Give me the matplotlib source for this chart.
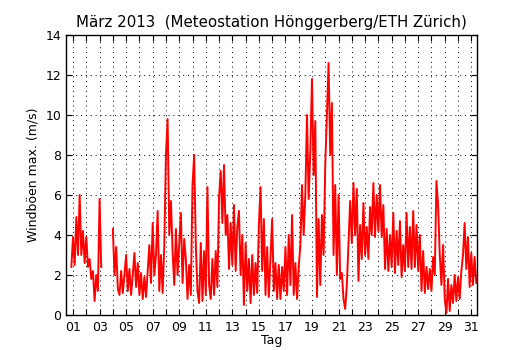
import numpy as np
import matplotlib
matplotlib.use('Agg')
import matplotlib.pyplot as plt

# Windböen max. (m/s), 3-hourly estimates, 8 values per day (nan = no data)
nan = np.nan
day01 = [nan, nan, nan, 2.4, 3.9, 2.5, 4.9, 3.0]
day02 = [6.0, 3.0, 4.2, 2.6, 3.9, 2.4, 2.8, 1.8]
day03 = [2.2, 0.7, 2.0, 1.2, 5.8, 2.4, nan, nan]
day04 = [nan, nan, nan, nan, 4.3, 2.0, 3.4, 1.3]
day05 = [1.0, 2.2, 1.1, 2.0, 3.0, 1.2, 2.3, 1.0]
day06 = [2.0, 3.1, 1.4, 2.6, 1.0, 2.1, 0.8, 1.9]
day07 = [0.9, 2.2, 3.5, 1.6, 4.6, 2.0, 3.0, 5.2]
day08 = [1.2, 3.0, 1.1, 3.5, 8.0, 9.8, 4.0, 5.7]
day09 = [3.2, 1.5, 4.3, 2.0, 3.6, 5.1, 1.6, 3.8]
day10 = [2.8, 0.8, 2.5, 1.0, 6.5, 8.0, 3.5, 1.2]
day11 = [0.6, 3.6, 0.7, 3.2, 1.0, 6.4, 1.5, 0.8]
day12 = [2.8, 1.0, 3.2, 1.4, 5.9, 7.2, 4.6, 7.5]
day13 = [4.0, 5.0, 2.3, 4.6, 2.5, 5.5, 2.2, 4.4]
day14 = [5.2, 2.0, 4.0, 0.5, 3.6, 1.2, 2.8, 0.6]
day15 = [3.0, 1.0, 2.6, 1.1, 4.5, 6.4, 2.2, 4.8]
day16 = [1.0, 3.4, 0.9, 2.8, 4.8, 1.2, 2.6, 0.8]
day17 = [2.5, 0.8, 2.4, 1.2, 3.4, 1.0, 4.0, 1.5]
day18 = [5.0, 1.0, 2.6, 0.8, 2.4, 3.5, 6.5, 4.0]
day19 = [6.0, 10.0, 5.8, 8.2, 11.8, 7.0, 9.7, 0.9]
day20 = [4.8, 1.5, 5.0, 3.0, 7.5, 10.0, 12.6, 8.0]
day21 = [10.6, 3.0, 6.5, 2.0, 6.0, 1.8, 2.1, 0.8]
day22 = [0.3, 1.5, 3.6, 5.7, 3.6, 6.6, 4.0, 6.3]
day23 = [1.7, 4.5, 2.8, 5.6, 3.0, 4.4, 2.8, 5.4]
day24 = [4.0, 6.6, 3.9, 6.0, 4.2, 6.5, 3.9, 5.5]
day25 = [2.3, 4.3, 2.2, 4.0, 2.4, 5.1, 2.1, 4.2]
day26 = [2.5, 4.7, 1.9, 3.5, 2.2, 5.1, 2.4, 4.4]
day27 = [2.3, 5.2, 2.4, 4.5, 2.2, 4.0, 1.2, 3.2]
day28 = [1.1, 2.4, 1.3, 2.3, 1.2, 2.9, 2.0, 6.7]
day29 = [5.5, 3.0, 1.5, 3.5, 0.8, 0.1, 1.8, 0.2]
day30 = [1.5, 0.6, 2.0, 0.7, 1.9, 0.8, 2.2, 3.0]
day31 = [4.6, 2.3, 3.9, 1.4, 3.1, 1.5, 2.9, 1.6]

days = [day01, day02, day03, day04, day05, day06, day07, day08, day09, day10,
        day11, day12, day13, day14, day15, day16, day17, day18, day19, day20,
        day21, day22, day23, day24, day25, day26, day27, day28, day29, day30, day31]
wind = np.concatenate(days)
t = 0.5 + np.arange(len(wind)) / 8.0

tick_days = list(range(1, 32))
tick_labels = ['%02d' % d if d % 2 == 1 else '' for d in tick_days]

fig = plt.figure(figsize=(5.3, 3.5), dpi=100)
ax = fig.add_axes([0.1245, 0.1, 0.776, 0.8])
ax.plot(t, wind, color='red', linewidth=1.4)

ax.set_xlim(0.47, 31.45)
ax.set_ylim(0, 14)
ax.set_xticks(tick_days)
ax.set_xticklabels(tick_labels)
ax.set_yticks(range(0, 15, 2))
ax.tick_params(direction='in', top=True, right=True, length=4, labelsize=9)
ax.tick_params(axis='x', pad=4)
ax.grid(True, color='black', linestyle=(0, (1, 4)), linewidth=0.7)
for s in ax.spines.values():
    s.set_linewidth(1.0)

ax.set_title('März 2013  (Meteostation Hönggerberg/ETH Zürich)', fontsize=10.8)
ax.set_xlabel('Tag', fontsize=9, labelpad=0)
ax.set_ylabel('Windböen max. (m/s)', fontsize=9)

fig.savefig('out.png', dpi=100)
